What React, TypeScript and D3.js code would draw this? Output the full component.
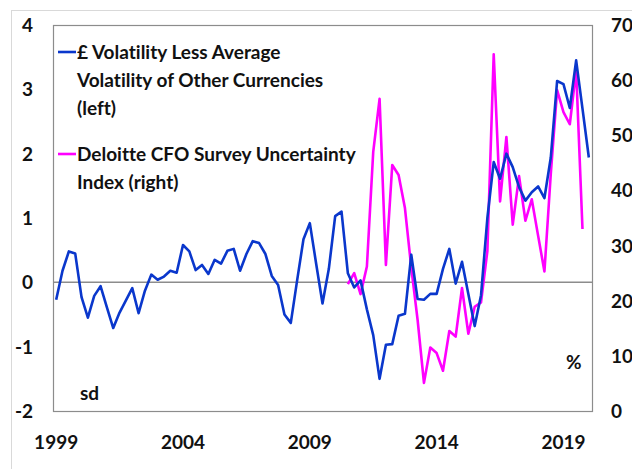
import React, { useEffect, useRef } from 'react';
import * as d3 from 'd3';

// quarterly, 1999 Q1 .. 2020 Q1
const startYear = 1999;
const quarterCount = 85;
const quarters: string[] = d3.range(quarterCount).map(i => `${startYear + Math.floor(i / 4)}Q${(i % 4) + 1}`);

const yearLabels = ['1999', '2004', '2009', '2014', '2019'];

// £ volatility less average volatility of other currencies (sd, left axis)
const sterlingVol = [
  -0.27, 0.18, 0.48, 0.45, -0.23, -0.55, -0.21, -0.06, -0.39, -0.71,
  -0.47, -0.28, -0.09, -0.48, -0.13, 0.12, 0.04, 0.09, 0.18, 0.15,
  0.58, 0.48, 0.19, 0.27, 0.13, 0.35, 0.29, 0.49, 0.52, 0.18,
  0.44, 0.64, 0.61, 0.44, 0.10, -0.04, -0.50, -0.63, 0.03, 0.67,
  0.92, 0.29, -0.33, 0.21, 1.03, 1.10, 0.14, -0.08, 0.03, -0.42,
  -0.82, -1.50, -0.97, -0.96, -0.52, -0.49, 0.43, -0.26, -0.27, -0.18,
  -0.18, 0.21, 0.52, -0.02, 0.32, -0.18, -0.68, -0.20, 1.00, 1.87,
  1.61, 2.00, 1.79, 1.48, 1.27, 1.40, 1.49, 1.31, 1.94, 3.13,
  3.08, 2.71, 3.45, 2.70, 1.94,
];

// Deloitte CFO survey uncertainty index (%, right axis), from 2010 Q3
const cfoStart = '2010Q3';
const cfoUncertainty = [
  23.0, 25.0, 21.2, 26.2, 47.0, 56.6, 26.5, 44.6, 42.8, 36.8,
  26.0, 16.5, 5.1, 11.5, 10.5, 7.3, 14.5, 13.5, 22.3, 14.0,
  18.9, 19.7, 29.0, 64.7, 38.0, 49.7, 33.8, 42.6, 34.5, 38.4,
  31.8, 25.3, 43.0, 58.2, 54.2, 52.0, 61.8, 33.0,
];

const leftTicks = [-2, -1, 0, 1, 2, 3, 4];
const rightTicks = [0, 10, 20, 30, 40, 50, 60, 70];

const legendBlue = ['£ Volatility Less Average', 'Volatility of Other Currencies', '(left)'];
const legendPink = ['Deloitte CFO Survey Uncertainty', 'Index (right)'];

const BLUE = '#0a37cc';
const PINK = '#ff00ff';
const FONT = 'Lato, "Open Sans", sans-serif';

const App = () => {
  const svgRef = useRef<SVGSVGElement>(null);

  useEffect(() => {
    const width = 632;
    const height = 469;
    const plot = { left: 53, right: 592, top: 25, bottom: 411 };

    const root = d3.select(svgRef.current);
    root.selectAll('*').remove();
    root.attr('width', width).attr('height', height);

    const x = d3.scalePoint<string>()
      .domain(quarters)
      .range([plot.left, plot.right])
      .padding(0.5);

    const yLeft = d3.scaleLinear().domain([-2, 4]).range([plot.bottom, plot.top]);
    const yRight = d3.scaleLinear().domain([0, 70]).range([plot.bottom, plot.top]);

    // outer chart border
    root.append('rect')
      .attr('x', 11.5).attr('y', 10.5)
      .attr('width', width).attr('height', height)
      .attr('fill', 'white')
      .attr('stroke', '#d9d9d9');

    // plot frame
    root.append('rect')
      .attr('x', plot.left + 0.5).attr('y', plot.top + 0.5)
      .attr('width', plot.right - plot.left).attr('height', plot.bottom - plot.top)
      .attr('fill', 'none')
      .attr('stroke', '#8c8c8c')
      .attr('stroke-width', 1.2);

    // zero line
    root.append('line')
      .attr('x1', plot.left).attr('x2', plot.right)
      .attr('y1', yLeft(0)).attr('y2', yLeft(0))
      .attr('stroke', '#8c8c8c')
      .attr('stroke-width', 1.5);

    const label = (sel: any) => sel
      .attr('font-family', FONT)
      .attr('font-weight', 700)
      .attr('font-size', 19)
      .style('font-variant-ligatures', 'none')
      .attr('fill', '#111');

    // left axis labels
    root.append('g').selectAll('text')
      .data(leftTicks)
      .enter()
      .append('text')
      .call(label)
      .attr('x', 33)
      .attr('y', d => yLeft(d) + 7)
      .attr('text-anchor', 'end')
      .text(d => d);

    // right axis labels
    root.append('g').selectAll('text')
      .data(rightTicks)
      .enter()
      .append('text')
      .call(label)
      .attr('x', 611)
      .attr('y', d => yRight(d) + 7)
      .text(d => d);

    // x axis labels
    root.append('g').selectAll('text')
      .data(yearLabels)
      .enter()
      .append('text')
      .call(label)
      .attr('x', d => x(`${d}Q1`)!)
      .attr('y', 449)
      .attr('text-anchor', 'middle')
      .text(d => d);

    // series
    const blueLine = d3.line<number>()
      .x((_, i) => x(quarters[i])!)
      .y(d => yLeft(d));

    const offset = quarters.indexOf(cfoStart);
    const pinkLine = d3.line<number>()
      .x((_, i) => x(quarters[i + offset])!)
      .y(d => yRight(d));

    root.append('path')
      .datum(cfoUncertainty)
      .attr('d', pinkLine)
      .attr('fill', 'none')
      .attr('stroke', PINK)
      .attr('stroke-width', 2.6)
      .attr('stroke-linejoin', 'round');

    root.append('path')
      .datum(sterlingVol)
      .attr('d', blueLine)
      .attr('fill', 'none')
      .attr('stroke', BLUE)
      .attr('stroke-width', 2.6)
      .attr('stroke-linejoin', 'round');

    // legend
    const legend = [
      { color: BLUE, lines: legendBlue, y: 52 },
      { color: PINK, lines: legendPink, y: 154 },
    ];
    legend.forEach(item => {
      root.append('line')
        .attr('x1', 58).attr('x2', 76)
        .attr('y1', item.y).attr('y2', item.y)
        .attr('stroke', item.color)
        .attr('stroke-width', 2.6);
      item.lines.forEach((t, i) => {
        root.append('text')
          .call(label)
          .attr('x', 77)
          .attr('y', item.y + 7 + i * 28)
          .text(t);
      });
    });

    // unit labels
    root.append('text').call(label).attr('x', 566).attr('y', 369).text('%');
    root.append('text').call(label).attr('x', 80).attr('y', 400).text('sd');
  }, []);

  return (
    <svg ref={svgRef} style={{ position: 'absolute', left: 0, top: 0 }}></svg>
  );
};

export default App;
